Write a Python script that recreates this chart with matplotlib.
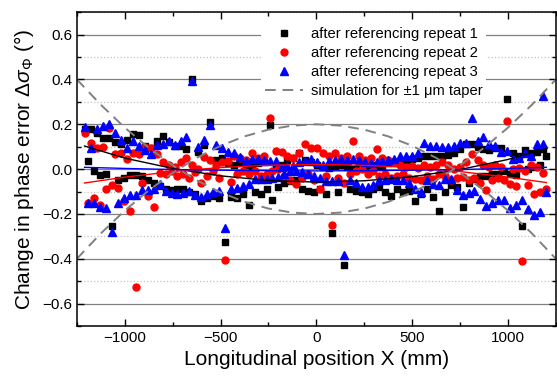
import numpy as np
import matplotlib
matplotlib.use('Agg')
import matplotlib.pyplot as plt
from matplotlib.ticker import MultipleLocator

plt.rcParams['font.family'] = ['Liberation Sans', 'DejaVu Sans']
plt.rcParams['mathtext.fontset'] = 'custom'
plt.rcParams['mathtext.rm'] = 'Liberation Sans'
plt.rcParams['mathtext.it'] = 'Liberation Sans:italic'

# measurement positions (mm), two interleaved sets of poles
x_up = np.arange(-1205, 1200, 31)
x_lo = np.arange(-1190, 1210, 31)

# repeat 1 (black squares)
rep1_up = [0.180, 0.180, 0.163, 0.140, 0.140, 0.120, 0.110, 0.130, 0.157, 0.150,
           0.102, 0.095, 0.127, 0.147, 0.120, 0.102, 0.102, 0.090, 0.400, 0.077,
           0.107, 0.209, 0.039, 0.050, 0.028, 0.020, 0.030, 0.020, 0.010, 0.025,
           0.030, 0.196, 0.010, 0.020, 0.040, 0.050, 0.073, 0.040, 0.030, 0.020,
           0.010, 0.005, 0.015, 0.020, 0.010, 0.000, 0.005, 0.010, 0.020, 0.015,
           0.010, 0.025, 0.030, 0.035, 0.040, 0.045, 0.050, 0.058, 0.058, 0.058,
           0.060, 0.065, 0.070, 0.090, 0.110, 0.110, 0.100, 0.090, 0.085, 0.095,
           0.095, 0.312, 0.070, 0.060, 0.087, 0.070, 0.075, 0.090]
rep1_lo = [0.036, -0.009, -0.027, -0.023, -0.253, -0.050, -0.041, -0.027, -0.027, -0.030,
           -0.050, -0.064, -0.076, -0.089, -0.095, -0.090, -0.089, -0.100, -0.110, -0.142,
           -0.130, -0.120, -0.128, -0.324, -0.125, -0.128, -0.110, -0.160, -0.100, -0.110,
           -0.090, -0.138, -0.080, -0.060, -0.055, -0.050, -0.090, -0.098, -0.100, -0.090,
           -0.110, -0.286, -0.100, -0.428, -0.090, -0.098, -0.100, -0.110, -0.090, -0.080,
           -0.100, -0.120, -0.090, -0.100, -0.098, -0.142, -0.110, -0.090, -0.123, -0.187,
           -0.100, -0.070, -0.080, -0.167, -0.060, -0.045, -0.031, -0.030, -0.020, -0.024,
           -0.010, -0.020, -0.028, -0.256, 0.000, 0.010, 0.020, 0.060]

# repeat 2 (red circles)
rep2_up = [0.161, 0.115, 0.095, 0.100, 0.184, 0.068, 0.070, 0.043, 0.070, 0.068,
           0.100, 0.095, 0.068, 0.030, 0.020, 0.010, 0.030, 0.050, 0.020, 0.000,
           0.053, 0.040, 0.020, 0.030, 0.035, 0.060, 0.050, 0.040, 0.070, 0.050,
           0.060, 0.228, 0.080, 0.075, 0.060, 0.050, 0.070, 0.112, 0.092, 0.095,
           0.070, 0.060, 0.070, 0.050, 0.060, 0.124, 0.060, 0.040, 0.050, 0.090,
           0.050, 0.040, 0.030, 0.020, 0.010, 0.015, 0.005, 0.020, 0.010, 0.020,
           0.030, 0.020, 0.000, 0.010, 0.030, 0.068, 0.040, 0.020, 0.010, 0.020,
           0.010, 0.216, 0.000, 0.005, -0.010, 0.020, 0.010, -0.016]
rep2_lo = [-0.150, -0.127, -0.160, -0.090, -0.070, -0.083, -0.142, -0.187, -0.527, -0.061,
           -0.120, -0.167, -0.016, -0.020, -0.010, -0.030, -0.020, -0.040, -0.013, -0.064,
           -0.030, -0.010, -0.039, -0.406, -0.058, -0.020, -0.010, -0.020, -0.010, -0.030,
           -0.020, -0.010, 0.000, -0.030, -0.050, -0.068, -0.040, -0.020, -0.050, -0.090,
           -0.030, -0.249, -0.040, -0.064, -0.020, -0.010, 0.000, -0.020, -0.010, -0.030,
           -0.020, -0.040, -0.030, -0.020, -0.040, -0.046, -0.050, -0.030, -0.043, -0.020,
           -0.030, -0.050, -0.040, -0.035, -0.050, -0.040, -0.061, -0.093, -0.050, -0.040,
           -0.050, -0.068, -0.075, -0.412, -0.070, -0.113, -0.100, -0.087]

# repeat 3 (blue triangles)
rep3_up = [0.187, 0.095, 0.181, 0.194, 0.199, 0.161, 0.129, 0.095, 0.124, 0.102,
           0.087, 0.068, 0.107, 0.113, 0.127, 0.107, 0.127, 0.145, 0.395, 0.100,
           0.132, 0.198, 0.107, 0.095, 0.077, 0.070, 0.053, 0.036, 0.045, 0.045,
           0.040, 0.038, 0.036, 0.010, 0.012, 0.015, 0.030, 0.035, 0.043, 0.030,
           0.020, 0.035, 0.040, 0.047, 0.040, 0.047, 0.040, 0.030, 0.025, 0.030,
           0.035, 0.040, 0.045, 0.058, 0.058, 0.058, 0.073, 0.117, 0.105, 0.102,
           0.100, 0.100, 0.105, 0.117, 0.117, 0.228, 0.125, 0.142, 0.113, 0.102,
           0.077, 0.080, 0.043, 0.048, 0.070, 0.060, 0.110, 0.110]
rep3_lo = [-0.150, -0.153, -0.167, -0.173, -0.280, -0.153, -0.127, -0.117, -0.117, -0.093,
           -0.093, -0.090, -0.068, -0.098, -0.105, -0.113, -0.105, -0.098, -0.117, -0.126,
           -0.110, -0.102, -0.098, -0.262, -0.090, -0.083, -0.075, -0.068, -0.043, -0.043,
           -0.045, -0.040, -0.035, -0.024, -0.010, -0.010, -0.015, -0.020, -0.030, -0.040,
           -0.053, -0.053, -0.053, -0.384, -0.047, -0.060, -0.079, -0.079, -0.070, -0.050,
           -0.050, -0.045, -0.050, -0.050, -0.061, -0.090, -0.100, -0.050, -0.068, -0.070,
           -0.043, -0.043, -0.093, -0.117, -0.105, -0.098, -0.135, -0.163, -0.150, -0.140,
           -0.140, -0.172, -0.160, -0.140, -0.179, -0.204, -0.190, -0.100]
rep3_extra_x = [1185]
rep3_extra_y = [0.324]

# quadratic fits
x_fit = [-1210, -1000, -750, -500, -250, 0, 250, 500, 750, 1000, 1200]
fit1 = [0.103, 0.049, 0.003, -0.030, -0.051, -0.058, -0.052, -0.034, -0.002, 0.043, 0.092]
fit2 = [-0.062, -0.036, -0.011, 0.007, 0.017, 0.021, 0.017, 0.007, -0.011, -0.036, -0.060]
fit3 = [0.008, 0.003, -0.002, -0.005, -0.007, -0.008, -0.007, -0.005, -0.002, 0.003, 0.008]

# simulated +/-1 um taper
x_sim = [-1250, -1125, -1000, -875, -750, -625, -500, -375, -250, -125, 0,
         125, 250, 375, 500, 625, 750, 875, 1000, 1125, 1250]
sim_lo = [0.400, 0.287, 0.185, 0.095, 0.017, -0.050, -0.104, -0.146, -0.176, -0.194, -0.200,
          -0.194, -0.176, -0.146, -0.104, -0.050, 0.017, 0.095, 0.185, 0.287, 0.400]
sim_hi = [-v for v in sim_lo]

fig = plt.figure(figsize=(5.57, 3.80), dpi=100)
ax = fig.add_axes([0.138, 0.142, 0.86, 0.826])

ax.set_ylim(-0.7, 0.7)
ax.set_xlim(-1250, 1250)
ax.yaxis.set_major_locator(MultipleLocator(0.2))
ax.yaxis.set_minor_locator(MultipleLocator(0.1))
ax.xaxis.set_major_locator(MultipleLocator(500))
ax.xaxis.set_minor_locator(MultipleLocator(250))
ax.grid(axis='y', which='major', color='#808080', lw=0.9, ls='-')
ax.grid(axis='y', which='minor', color='#c0c0c0', lw=0.9, ls=':')
ax.set_axisbelow(True)

ms = 5
ax.plot(x_up, rep1_up, 's', color='black', ms=ms, label='after referencing repeat 1')
ax.plot(x_lo, rep1_lo, 's', color='black', ms=ms)
ax.plot(x_up, rep2_up, 'o', color='red', ms=ms, label='after referencing repeat 2')
ax.plot(x_lo, rep2_lo, 'o', color='red', ms=ms)
ax.plot(x_up, rep3_up, '^', color='blue', ms=ms + 0.6, label='after referencing repeat 3')
ax.plot(x_lo, rep3_lo, '^', color='blue', ms=ms + 0.6)
ax.plot(rep3_extra_x, rep3_extra_y, '^', color='blue', ms=ms + 0.6)

ax.plot(x_fit, fit1, '-', color='black', lw=1)
ax.plot(x_fit, fit2, '-', color='red', lw=1)
ax.plot(x_fit, fit3, '-', color='blue', lw=1)

ax.plot(x_sim, sim_lo, '--', color='#808080', lw=1.4, dashes=(5.5, 3.5),
        label='simulation for ±1 μm taper')
ax.plot(x_sim, sim_hi, '--', color='#808080', lw=1.4, dashes=(5.5, 3.5))

ax.tick_params(which='both', direction='in', top=True, right=True, labelsize=11, width=1)
ax.tick_params(which='major', length=5)
ax.tick_params(which='minor', length=3)
for s in ax.spines.values():
    s.set_linewidth(1.1)

ax.set_xlabel('Longitudinal position X (mm)', fontsize=15)
ax.set_ylabel(r'Change in phase error $\Delta\sigma_{\Phi}$ (°)', fontsize=15)

leg = ax.legend(loc='upper left', bbox_to_anchor=(0.385, 0.965), fontsize=10.6,
                frameon=True, fancybox=False, edgecolor='none', framealpha=1,
                handlelength=2.6, handletextpad=0.5, labelspacing=0.35,
                borderpad=0.25, borderaxespad=0, numpoints=1)

fig.savefig('out.png', dpi=100)
